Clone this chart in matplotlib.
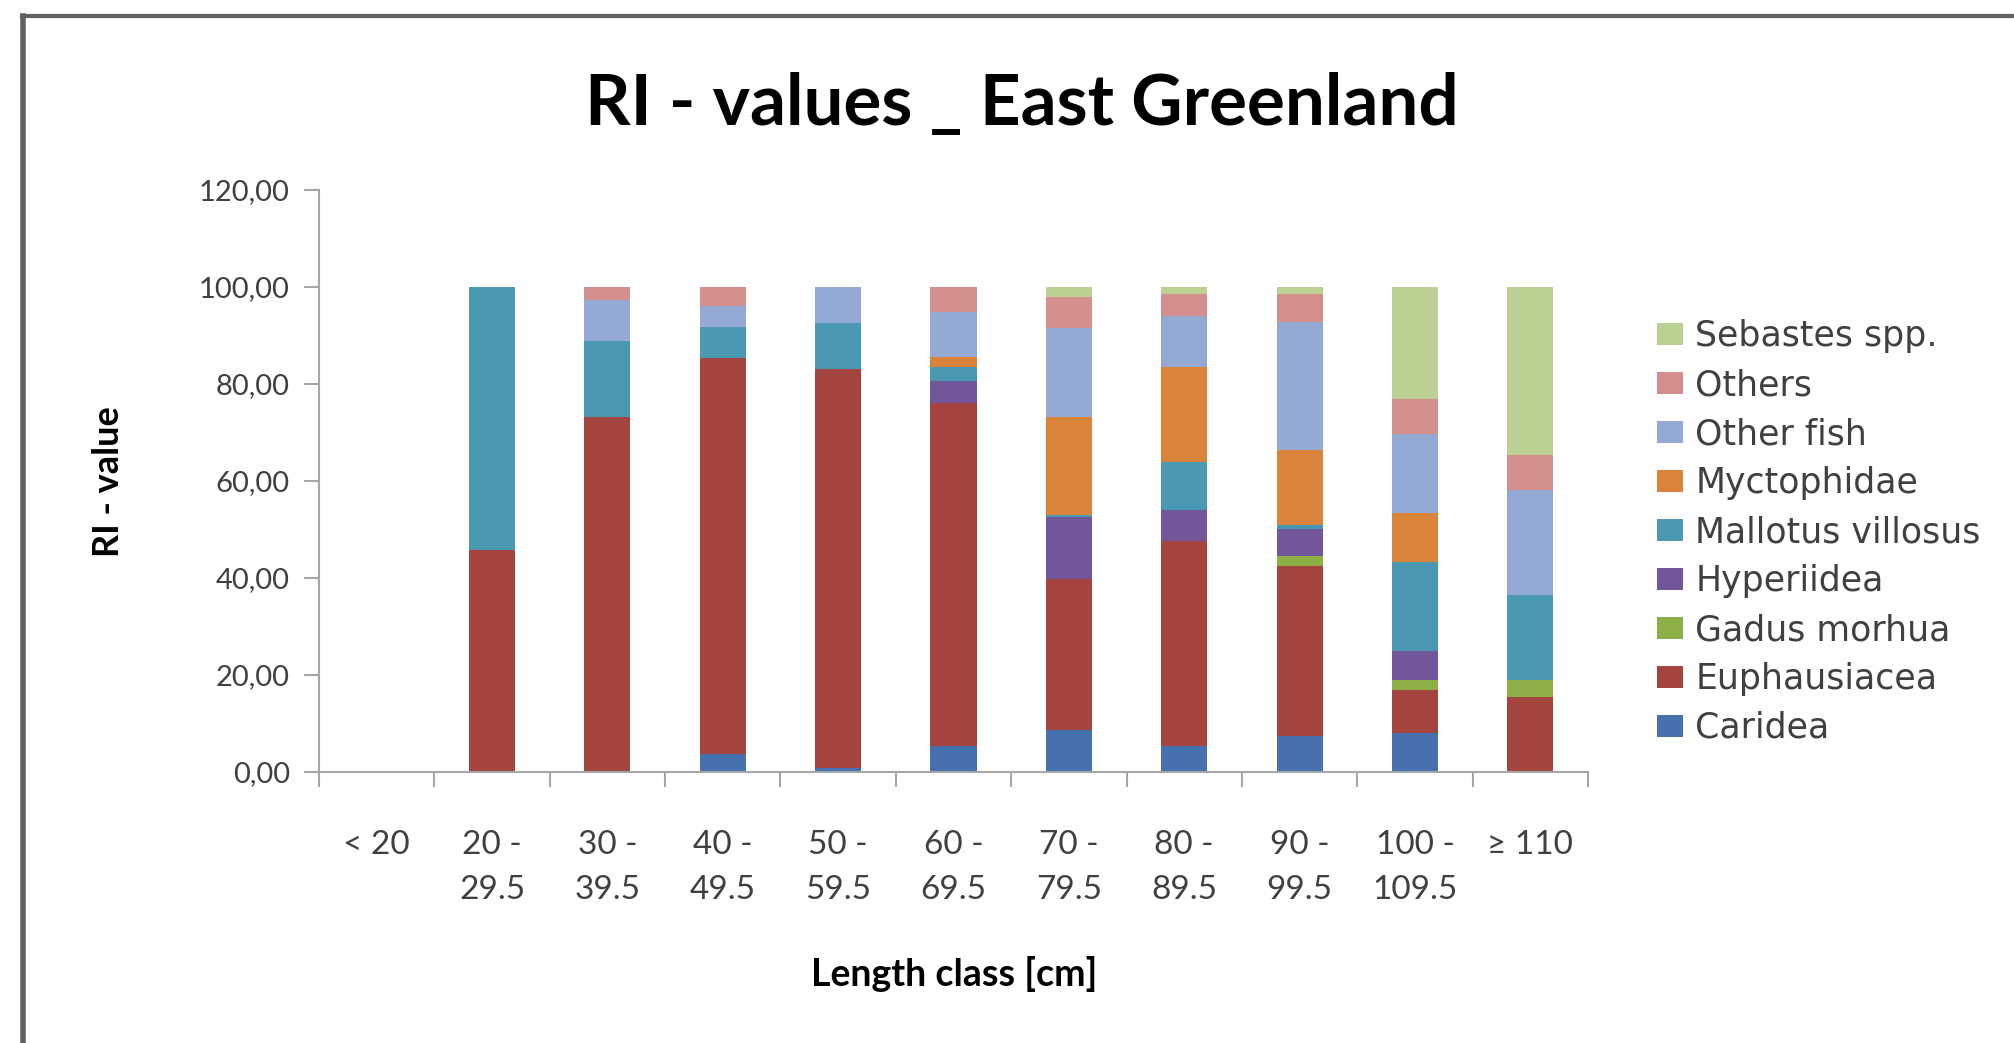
import matplotlib
matplotlib.use('Agg')
import matplotlib.pyplot as plt
from matplotlib.lines import Line2D
from matplotlib.ticker import FuncFormatter
import numpy as np

plt.rcParams['font.family'] = ['Lato', 'DejaVu Sans']

# length classes
categories = ['< 20', '20 -\n29.5', '30 -\n39.5', '40 -\n49.5', '50 -\n59.5', '60 -\n69.5',
              '70 -\n79.5', '80 -\n89.5', '90 -\n99.5', '100 -\n109.5', '\u2265 110']

# RI values per prey group
caridea      = [0, 0, 0, 3.8, 0.8, 5.3, 8.6, 5.3, 7.4, 8.0, 0]
euphausiacea = [0, 45.8, 73.3, 81.6, 82.4, 70.7, 31.3, 42.3, 35.0, 9.0, 15.5]
gadus        = [0, 0, 0, 0, 0, 0, 0, 0, 2.1, 1.9, 3.4]
hyperiidea   = [0, 0, 0, 0, 0, 4.6, 12.7, 6.5, 5.7, 6.0, 0]
mallotus     = [0, 54.2, 15.6, 6.4, 9.4, 3.0, 0.4, 9.8, 0.7, 18.4, 17.5]
myctophidae  = [0, 0, 0, 0, 0, 2.0, 20.3, 19.7, 15.4, 10.1, 0]
other_fish   = [0, 0, 8.4, 4.2, 7.4, 9.2, 18.2, 10.4, 26.5, 16.4, 21.8]
others       = [0, 0, 2.7, 4.0, 0, 5.2, 6.5, 4.5, 5.7, 7.2, 7.1]
sebastes     = [0, 0, 0, 0, 0, 0, 2.0, 1.5, 1.5, 23.0, 34.7]

series = [
    ('Caridea', caridea, '#4671AE'),
    ('Euphausiacea', euphausiacea, '#A4443F'),
    ('Gadus morhua', gadus, '#8CB045'),
    ('Hyperiidea', hyperiidea, '#72569A'),
    ('Mallotus villosus', mallotus, '#4A98B2'),
    ('Myctophidae', myctophidae, '#D9843A'),
    ('Other fish', other_fish, '#94A9D3'),
    ('Others', others, '#D38F8E'),
    ('Sebastes spp.', sebastes, '#BBD093'),
]

fig = plt.figure(figsize=(20.15, 10.43), dpi=100)
ax = fig.add_axes([0.1583, 0.2598, 0.6298, 0.558])

x = np.arange(len(categories))
bottom = np.zeros(len(categories))
handles = []
for name, vals, col in series:
    b = ax.bar(x, vals, width=0.4, bottom=bottom, color=col, label=name)
    bottom += np.array(vals)
    handles.append(b)

ax.set_xlim(-0.5, len(categories) - 0.5)
ax.set_ylim(0, 120)
ax.set_yticks(np.arange(0, 121, 20))
ax.yaxis.set_major_formatter(FuncFormatter(lambda v, p: f'{v:.2f}'.replace('.', ',')))

ax.set_xticks(x)
ax.set_xticklabels(categories, linespacing=1.62)
ax.set_xticks(np.arange(-0.5, len(categories)), minor=True)
ax.tick_params(axis='x', which='major', length=0, pad=42, labelsize=24, labelcolor='#404040')
ax.tick_params(axis='x', which='minor', length=11, width=1.5, color='#A6A6A6')
ax.tick_params(axis='y', length=11, width=1.5, color='#A6A6A6', pad=10, labelsize=21,
               labelcolor='#404040')

for s in ['top', 'right']:
    ax.spines[s].set_visible(False)
for s in ['left', 'bottom']:
    ax.spines[s].set_color('#A6A6A6')
    ax.spines[s].set_linewidth(1.5)

fig.text(0.507, 0.900, 'RI - values _ East Greenland', ha='center', va='center',
         fontsize=51, fontweight='bold', color='black')
fig.text(0.054, 0.538, 'RI - value', rotation=90, ha='center', va='center',
         fontsize=26, fontweight='bold', color='black')
fig.text(0.4735, 0.066, 'Length class [cm]', ha='center', va='center',
         fontsize=27, fontweight='bold', color='black')

leg = fig.legend(handles[::-1], [s[0] for s in series][::-1], loc='upper left',
                 bbox_to_anchor=(0.8155, 0.707), frameon=False,
                 prop={'family': ['DejaVu Sans'], 'size': 25},
                 handlelength=0.75, handleheight=0.6, handletextpad=0.35,
                 labelspacing=0.43, borderaxespad=0)
for t in leg.get_texts():
    t.set_color('#404040')

# screenshot frame (top and left edge)
fig.add_artist(Line2D([22 / 2015, 1], [1 - 16 / 1043, 1 - 16 / 1043],
                      transform=fig.transFigure, color='#606060', lw=3))
fig.add_artist(Line2D([23 / 2015, 23 / 2015], [0, 1 - 16 / 1043],
                      transform=fig.transFigure, color='#606060', lw=4))

fig.savefig('out.png', dpi=100, facecolor='white')
